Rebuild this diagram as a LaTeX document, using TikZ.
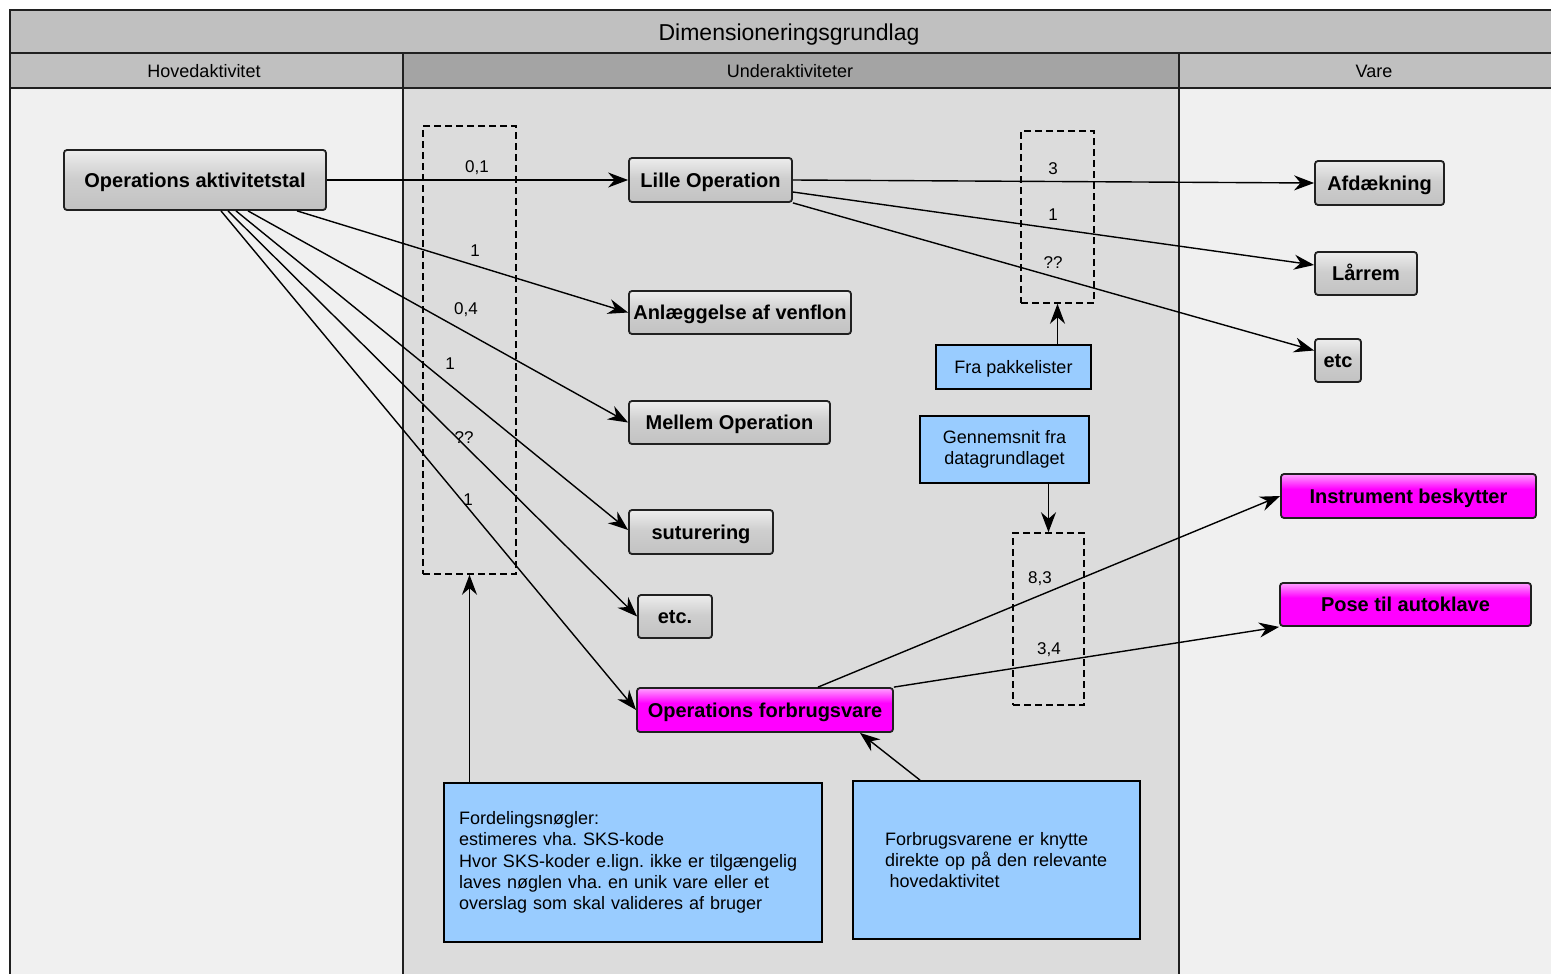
\documentclass[tikz,border=0pt]{standalone}
\usepackage{fontspec}
\setmainfont{Liberation Sans}
\usetikzlibrary{arrows.meta}
\frenchspacing

\definecolor{band}{HTML}{C0C0C0}
\definecolor{bandmid}{HTML}{A4A4A4}
\definecolor{lanelight}{HTML}{F0F0F0}
\definecolor{lanemid}{HTML}{DCDCDC}
\definecolor{framecol}{HTML}{202020}
\definecolor{notefill}{HTML}{99CCFF}
\definecolor{gbot}{HTML}{C2C2C2}
\definecolor{gmid}{HTML}{CECECE}
\definecolor{gtop}{HTML}{EDEDED}
\definecolor{mbot}{HTML}{FF00FF}
\definecolor{mtop}{HTML}{FFA0FF}

% glossy fills for the activity boxes (inner 25bp..75bp spans the box)
\pgfdeclareverticalshading{grayglossy}{100bp}{color(0bp)=(gbot); color(25bp)=(gbot); color(52bp)=(gmid); color(75bp)=(gtop); color(100bp)=(gtop)}
\pgfdeclareverticalshading{magglossy}{100bp}{color(0bp)=(mbot); color(25bp)=(mbot); color(58bp)=(mbot); color(75bp)=(mtop); color(100bp)=(mtop)}

\tikzset{
  act/.style={draw=framecol, line width=1.8pt, rounded corners=3pt, shading=grayglossy,
    font=\fontsize{20}{24}\selectfont\bfseries, inner sep=0pt, text height=14.3pt, text depth=0pt},
  mag/.style={act, shading=magglossy},
  note/.style={draw=black, line width=1.8pt, fill=notefill,
    font=\fontsize{18}{21.3}\selectfont, inner sep=0pt},
  dbox/.style={draw=black, dash pattern=on 7pt off 4pt, line width=1.5pt, inner sep=0pt},
  num/.style={font=\fontsize{17}{20}\selectfont, inner sep=0pt, text height=12.2pt, text depth=0pt},
  hdr/.style={font=\fontsize{18}{21}\selectfont, inner sep=0pt, text height=12.9pt, text depth=0pt},
  conn/.style={line width=1.4pt, -{Stealth[length=20pt,width=15pt,inset=6.5pt]}},
  frame/.style={draw=framecol, line width=2pt},
}

\begin{document}
\begin{tikzpicture}[x=1pt, y=-1pt]
\useasboundingbox (0,0) rectangle (1551,974);
\clip (0,0) rectangle (1551,974);

% lanes and header bands
\fill[white] (0,0) rectangle (1551,974);
\fill[lanelight] (10,88) rectangle (403,980);
\fill[lanemid] (403,88) rectangle (1179,980);
\fill[lanelight] (1179,88) rectangle (1560,980);
\fill[band] (10,10) rectangle (1560,53);
\fill[band] (10,53) rectangle (403,88);
\fill[bandmid] (403,53) rectangle (1179,88);
\fill[band] (1179,53) rectangle (1560,88);
\draw[frame] (1560,10) -- (10,10) -- (10,980);
\draw[frame] (10,53) -- (1560,53);
\draw[frame] (10,88) -- (1560,88);
\draw[frame] (403,53) -- (403,980);
\draw[frame] (1179,53) -- (1179,980);

\node[font=\fontsize{23}{26}\selectfont, inner sep=0pt, text height=16.5pt, text depth=0pt] (title) at (789,32) {Dimensioneringsgrundlag};
\node[hdr] (h1) at (204,71) {Hovedaktivitet};
\node[hdr] (h2) at (790,71) {Underaktiviteter};
\node[hdr] (h3) at (1374,71) {Vare};

% dashed groups of factors
\node[dbox, minimum width=93, minimum height=448] (d1) at (469.5,350) {};
\node[dbox, minimum width=73, minimum height=172] (d2) at (1057.5,217) {};
\node[dbox, minimum width=71, minimum height=172] (d3) at (1048.5,619) {};

% activities
\node[act, minimum width=262, minimum height=60] (oa) at (195,180) {Operations aktivitetstal};
\node[act, minimum width=163, minimum height=44] (lo) at (710.5,180) {Lille Operation};
\node[act, minimum width=222, minimum height=43] (anl) at (740,312.5) {Anlæggelse af venflon};
\node[act, minimum width=201, minimum height=43] (mel) at (729.5,422.5) {Mellem Operation};
\node[act, minimum width=144, minimum height=44] (sut) at (701,532) {suturering};
\node[act, minimum width=74, minimum height=43] (etca) at (675,616.5) {etc.};
\node[mag, minimum width=256, minimum height=44] (ofv) at (765,710) {Operations forbrugsvare};

% goods
\node[act, minimum width=129, minimum height=44] (afd) at (1379.5,183) {Afdækning};
\node[act, minimum width=102, minimum height=43] (lr) at (1366,273.5) {Lårrem};
\node[act, minimum width=46, minimum height=43] (etcb) at (1338,360.5) {etc};
\node[mag, minimum width=255, minimum height=44] (ib) at (1408.5,496) {Instrument beskytter};
\node[mag, minimum width=251, minimum height=43] (pose) at (1405.5,604.5) {Pose til autoklave};

% notes
\node[note, minimum width=155, minimum height=44, text height=13pt, text depth=0pt] (fp) at (1013.5,367) {Fra pakkelister};
\node[note, minimum width=169, minimum height=67, align=center] (gn) at (1004.5,449.5) {Gennemsnit fra\\datagrundlaget};
\node[note, minimum width=378, minimum height=159, text width=348, align=left] (fn) at (633,862.5)
  {\mbox{Fordelingsnøgler:}\\\mbox{estimeres vha. SKS-kode}\\\mbox{Hvor SKS-koder e.lign. ikke er tilgængelig}\\\mbox{laves nøglen vha. en unik vare eller et}\\\mbox{overslag som skal valideres af bruger}};
\node[note, minimum width=287, minimum height=158, text width=223, align=left] (fv) at (996.5,860)
  {\mbox{Forbrugsvarene er knytte}\\\mbox{direkte op på den relevante}\\\mbox{\hspace*{4.5pt}hovedaktivitet}};

% factors
\node[num] (n1) at (477,166) {0,1};
\node[num] (n2) at (475,250) {1};
\node[num] (n3) at (466,308) {0,4};
\node[num] (n4) at (450,363) {1};
\node[num] (n5) at (464,437) {??};
\node[num] (n6) at (468,499) {1};
\node[num] (n7) at (1053,168) {3};
\node[num] (n8) at (1053,214) {1};
\node[num] (n9) at (1053,262) {??};
\node[num] (n10) at (1040,577) {8,3};
\node[num] (n11) at (1049,648) {3,4};

% connectors
\draw[conn] (oa.east) -- (lo.west);
\draw[conn] ([xshift=102pt]oa.south) -- (anl.west);
\draw[conn] ([xshift=53pt]oa.south) -- (mel.west);
\draw[conn] ([xshift=41pt]oa.south) -- ([yshift=2pt]sut.west);
\draw[conn] ([xshift=33pt]oa.south) -- (etca.west);
\draw[conn] ([xshift=26pt]oa.south) -- (ofv.west);

\draw[conn] (lo.east) -- (afd.west);
\draw[conn] ([yshift=-12pt]lo.east) -- ([yshift=8.5pt]lr.west);
\draw[conn] (lo.south east) -- ([yshift=10pt]etcb.west);

\draw[conn] ([xshift=53pt]ofv.north) -- (ib.west);
\draw[conn] (ofv.north east) -- (pose.south west);

\draw[conn] (d2.south |- fp.north) -- (d2.south);
\draw[conn] (d3.north |- gn.south) -- (d3.north);
\draw[conn] (d1.south |- fn.north) -- (d1.south);
\draw[conn] ([xshift=-76.5pt]fv.north) -- ([xshift=95pt]ofv.south);
\end{tikzpicture}
\end{document}
